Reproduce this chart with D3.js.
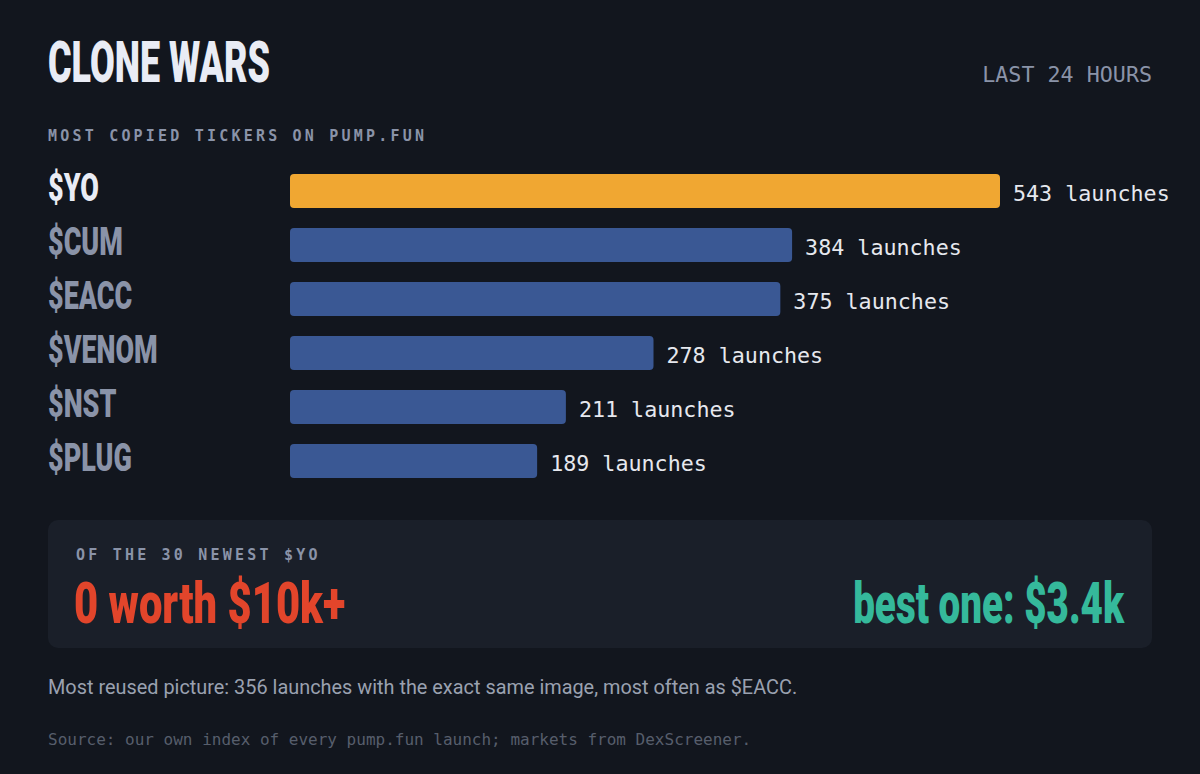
<!DOCTYPE html>
<html><head><meta charset="utf-8">
<script src="https://cdn.jsdelivr.net/npm/d3@7"></script>
<style>
html,body{margin:0;padding:0;background:#12161e;}
svg{display:block;}
</style></head>
<body>
<script>
const title = "CLONE WARS";
const period = "LAST 24 HOURS";
const subtitle = "MOST COPIED TICKERS ON PUMP.FUN";
const tickers = ["$YO", "$CUM", "$EACC", "$VENOM", "$NST", "$PLUG"];
const launches = [543, 384, 375, 278, 211, 189];
const valueSuffix = " launches";
const panelKicker = "OF THE 30 NEWEST $YO";
const panelLeft = "0 worth $10k+";
const panelRight = "best one: $3.4k";
const note = "Most reused picture: 356 launches with the exact same image, most often as $EACC.";
const source = "Source: our own index of every pump.fun launch; markets from DexScreener.";

const W = 1200, H = 774;
const C = {bg:"#12161e", panel:"#1a1f29", white:"#e9ecf5", muted:"#8a93a8", orange:"#f0a732", blue:"#3a5894",
  value:"#e6e8ee", red:"#e2452b", teal:"#35b99b", note:"#9aa1b0", source:"#575e6c"};
const DISPLAY = "Roboto, 'Liberation Sans', sans-serif";
const MONO = "'DejaVu Sans Mono', 'Liberation Mono', monospace";

const svg = d3.select("body").append("svg").attr("width", W).attr("height", H);
svg.append("rect").attr("width", W).attr("height", H).attr("fill", C.bg);

function display(x, y, text, size, color, anchor, sq) {
  return svg.append("text")
    .attr("transform", `translate(${x},${y}) scale(${sq},1)`)
    .attr("text-anchor", anchor || "start")
    .attr("font-family", DISPLAY).attr("font-weight", 900)
    .attr("font-size", size).attr("fill", color).text(text);
}

display(48, 82, title, 58, C.white, "start", 0.62);
svg.append("text").attr("x", 1152).attr("y", 82).attr("text-anchor", "end")
  .attr("font-family", MONO).attr("font-size", 21.7).attr("fill", C.muted).text(period);
svg.append("text").attr("x", 48).attr("y", 141)
  .attr("font-family", MONO).attr("font-weight", 700).attr("font-size", 15)
  .attr("letter-spacing", 3.2).attr("fill", C.muted).text(subtitle);

const x = d3.scaleLinear().domain([0, d3.max(launches)]).range([290, 1000]);
const y = d3.scaleBand().domain(tickers).range([174, 174 + 54 * tickers.length - 20]).paddingInner(20/54).paddingOuter(0);

const data = tickers.map((t, i) => ({t, v: launches[i], i}));
const g = svg.append("g");
g.selectAll("rect.bar").data(data).join("rect").attr("class", "bar")
  .attr("x", x(0)).attr("y", d => y(d.t))
  .attr("width", d => x(d.v) - x(0)).attr("height", y.bandwidth())
  .attr("rx", 4).attr("fill", d => d.i === 0 ? C.orange : C.blue);
g.selectAll("text.val").data(data).join("text").attr("class", "val")
  .attr("x", d => x(d.v) + 13).attr("y", d => y(d.t) + y.bandwidth()/2 + 9.5)
  .attr("font-family", MONO).attr("font-size", 21.7).attr("fill", C.value)
  .text(d => d.v + valueSuffix);
data.forEach(d => {
  display(48, y(d.t) + y.bandwidth()/2 + 10, d.t, 38, d.i === 0 ? C.white : C.muted, "start", 0.71);
});

svg.append("rect").attr("x", 48).attr("y", 520).attr("width", 1104).attr("height", 128)
  .attr("rx", 10).attr("fill", C.panel);
svg.append("text").attr("x", 76).attr("y", 560)
  .attr("font-family", MONO).attr("font-weight", 700).attr("font-size", 15)
  .attr("letter-spacing", 3.2).attr("fill", C.muted).text(panelKicker);
display(74, 623, panelLeft, 58, C.red, "start", 0.72);
display(1124, 623, panelRight, 58, C.teal, "end", 0.665);

svg.append("text").attr("transform", "translate(48,694) scale(1.02,1)")
  .attr("font-family", "Roboto, sans-serif").attr("font-weight", 400).attr("font-size", 19.5)
  .attr("fill", C.note).text(note);
svg.append("text").attr("x", 48).attr("y", 745)
  .attr("font-family", MONO).attr("font-size", 16).attr("fill", C.source).text(source);
</script>
</body></html>
